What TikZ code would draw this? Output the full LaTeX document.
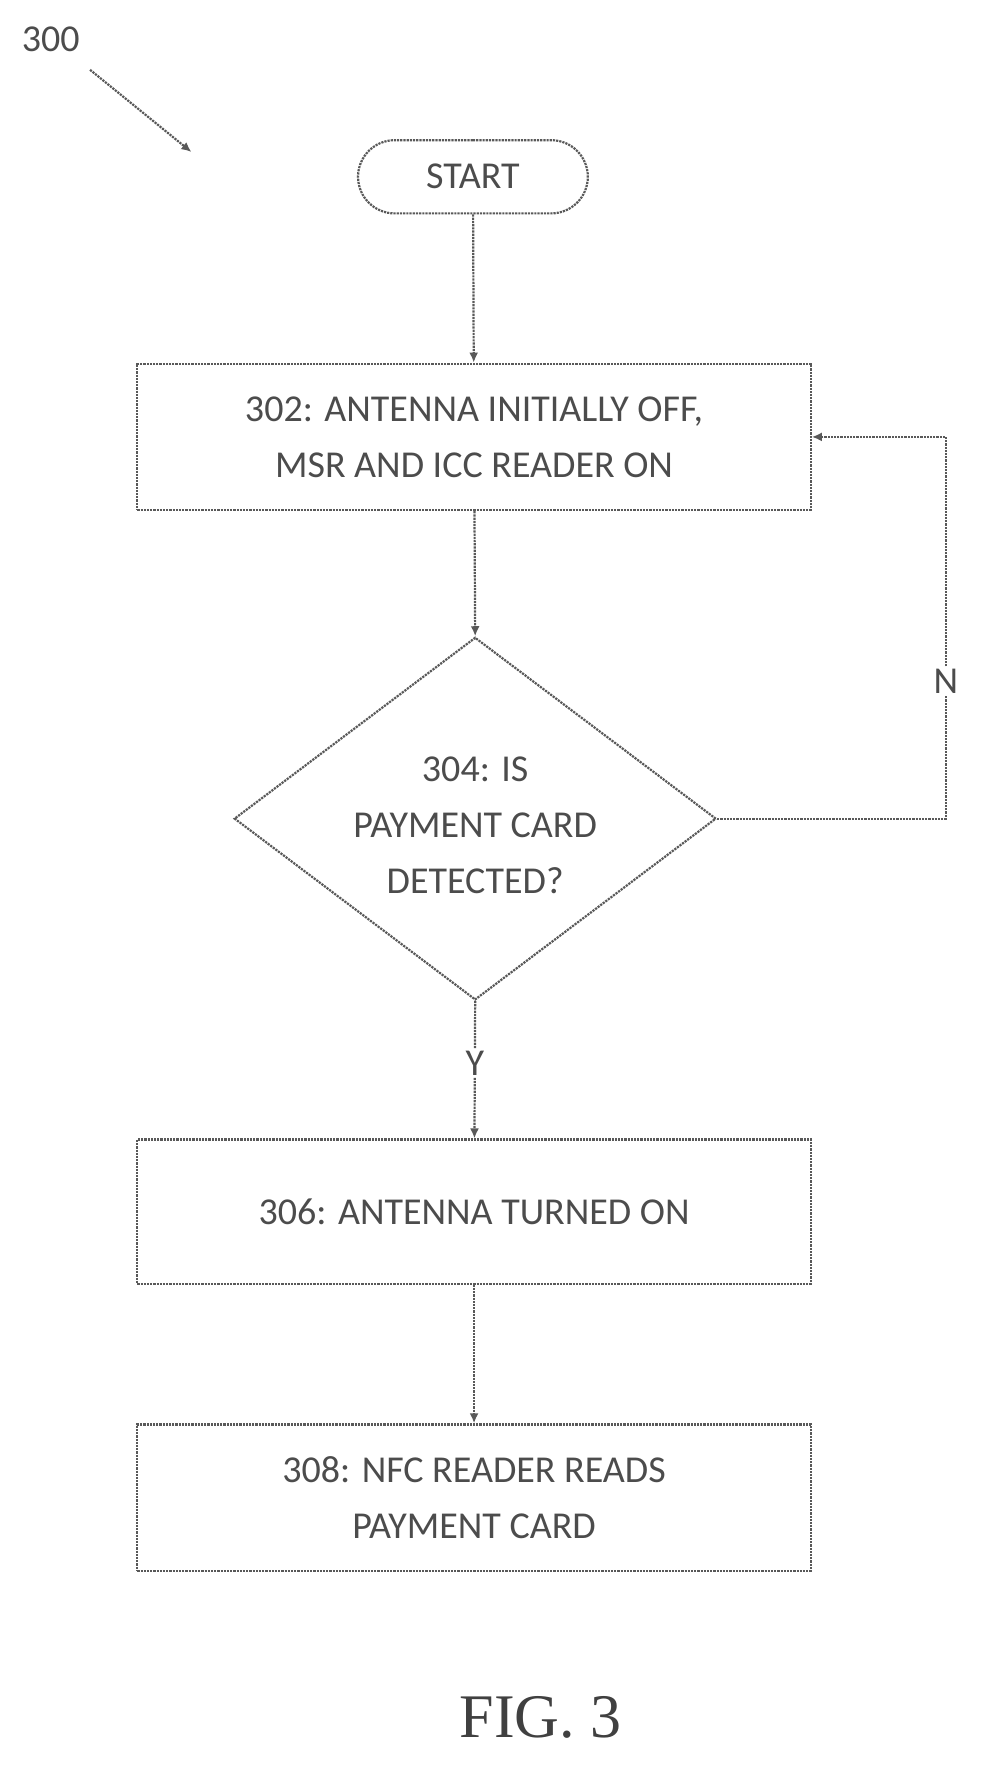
\documentclass[tikz,border=0pt]{standalone}
\usepackage{fontspec}
\setmainfont{Carlito}
\usetikzlibrary{shapes.geometric,shapes.misc,arrows.meta}
\begin{document}
\begin{tikzpicture}[x=1.126pt,y=-1.126pt,
  ln/.style={draw=black!65,densely dotted,line width=2.2pt},
  arr/.style={ln,-{Latex[length=10pt,width=9pt]}},
  txt/.style={font=\fontsize{38}{56}\selectfont,text=black!70,align=center}]
\useasboundingbox (0,0) rectangle (880,1587);
\node[txt] (lbl) at (45,35) {300};
\coordinate (la) at (80,62);
\coordinate (lb) at (170,135);
\draw[arr] (la) -- (lb);
\node[ln,rounded rectangle,minimum width=210*1.126pt,minimum height=65*1.126pt,txt] (s) at (420,157) {START};
\node[ln,rectangle,minimum width=598*1.126pt,minimum height=130*1.126pt,txt] (b302) at (421,388) {302: ANTENNA INITIALLY OFF,\\MSR AND ICC READER ON};
\node[ln,diamond,aspect=1.33,minimum width=428*1.126pt,minimum height=322*1.126pt,inner sep=0pt,txt] (d) at (422,727) {};
\node[txt] (dt) at (422,733) {304: IS\\PAYMENT CARD\\DETECTED?};
\node[ln,rectangle,minimum width=598*1.126pt,minimum height=128*1.126pt,txt] (b306) at (421,1076) {306: ANTENNA TURNED ON};
\node[ln,rectangle,minimum width=598*1.126pt,minimum height=130*1.126pt,txt] (b308) at (421,1330) {308: NFC READER READS\\PAYMENT CARD};
\node[font=\fontsize{62}{62}\selectfont,text=black!75] (fig) at (480,1525) {\fontspec{Liberation Serif}FIG. 3};
\draw[arr] (s) -- (b302);
\draw[arr] (b302) -- (d.north);
\draw[arr] (d.south) -- node[txt,fill=white,inner sep=2pt,pos=0.45] (y) {Y} (b306);
\draw[arr] (b306) -- (b308);
\coordinate (c1) at (840,727);
\coordinate (c2) at (840,388);
\draw[arr] (d.east) -- (c1) -- (c2) -- (b302.east);
\node[txt,fill=white,inner sep=2pt] (n) at (840,605) {N};
\end{tikzpicture}
\end{document}
